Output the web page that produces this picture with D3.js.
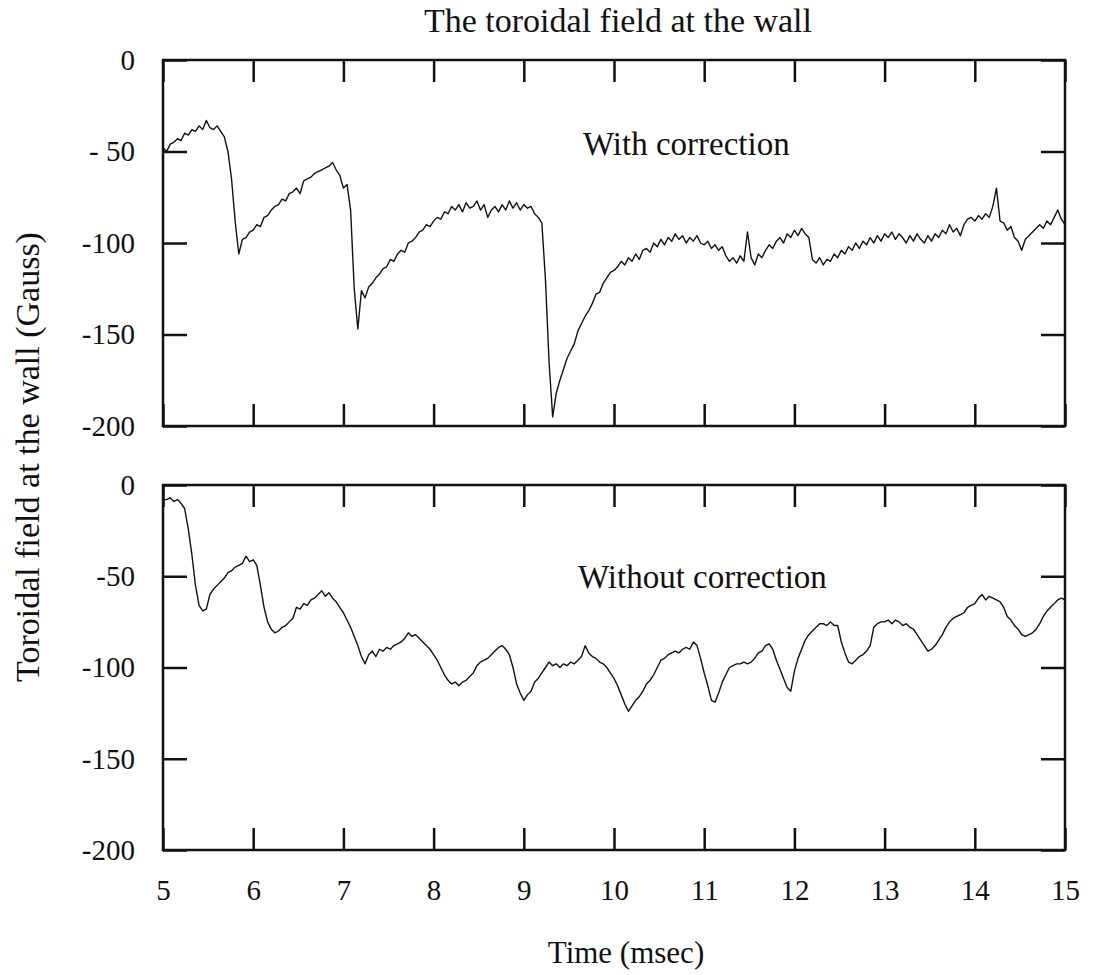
<!DOCTYPE html>
<html>
<head>
<meta charset="utf-8">
<script src="https://cdn.jsdelivr.net/npm/d3@7"></script>
<style>
  body { margin: 0; background: #fff; }
  svg text { font-family: "Liberation Serif", "Times New Roman", serif; fill: #111; }
</style>
</head>
<body>
<svg id="chart" width="1094" height="975"></svg>
<script>
// Sampling grid of the probe record (msec)
const timeStart = 5;
const timeStep = 0.04;

// Toroidal field at the wall with correction (Gauss), one value per sample
const withCorrection = [
  -48,-50,-46,-45,-43,-44,-40,-41,-38,-39,-36,-38,-33,-37,-38,-36,-39,-42,-50,-65,-88,-106,-98,-97,-94,
  -93,-90,-91,-86,-85,-82,-80,-79,-76,-77,-73,-72,-70,-73,-66,-65,-64,-62,-61,-60,-59,-58,-56,-60,-63,
  -70,-68,-82,-125,-147,-126,-130,-124,-122,-119,-117,-114,-113,-109,-110,-106,-104,-105,-100,-99,-97,-94,-93,-90,-91,
  -88,-86,-87,-83,-84,-80,-82,-79,-83,-78,-81,-80,-77,-82,-79,-86,-82,-80,-83,-79,-82,-77,-81,-78,-82,
  -79,-81,-80,-84,-86,-89,-120,-165,-195,-182,-175,-169,-163,-159,-155,-148,-144,-140,-137,-133,-128,-127,-122,-119,-116,
  -115,-113,-110,-112,-108,-110,-106,-109,-104,-103,-105,-100,-102,-98,-101,-97,-99,-95,-98,-96,-100,-97,-99,-96,-100,
  -101,-99,-103,-101,-104,-102,-107,-110,-108,-111,-107,-110,-94,-108,-112,-106,-108,-104,-101,-103,-99,-97,-100,-95,-97,
  -93,-96,-92,-95,-97,-109,-111,-108,-112,-109,-110,-106,-108,-104,-106,-102,-104,-100,-103,-99,-101,-97,-100,-96,-99,
  -95,-97,-94,-98,-95,-97,-100,-96,-99,-95,-98,-100,-96,-99,-95,-97,-93,-95,-90,-94,-92,-96,-90,-87,-86,
  -88,-85,-87,-84,-86,-80,-70,-88,-89,-93,-91,-97,-99,-104,-98,-96,-94,-92,-90,-92,-88,-90,-86,-82,-87,
  -90
];

// Toroidal field at the wall without correction (Gauss)
const withoutCorrection = [
  -8,-8,-7,-9,-8,-10,-13,-24,-38,-55,-66,-69,-68,-60,-57,-55,-53,-51,-48,-47,-45,-44,-43,-39,-42,
  -41,-44,-55,-67,-75,-79,-81,-80,-78,-77,-75,-73,-67,-68,-65,-66,-63,-62,-60,-58,-61,-59,-62,-64,-67,
  -70,-74,-78,-83,-88,-94,-98,-93,-91,-94,-90,-91,-89,-90,-88,-87,-86,-84,-81,-83,-82,-84,-86,-88,-90,
  -93,-96,-100,-104,-107,-109,-108,-110,-108,-107,-105,-103,-99,-97,-96,-95,-93,-91,-89,-88,-90,-93,-100,-109,-114,
  -118,-115,-113,-108,-106,-103,-100,-97,-99,-98,-100,-98,-99,-97,-98,-96,-94,-88,-92,-94,-95,-97,-98,-100,-103,
  -106,-110,-115,-120,-124,-121,-118,-116,-113,-109,-107,-104,-100,-96,-95,-93,-92,-91,-92,-90,-89,-90,-86,-88,-95,
  -103,-110,-118,-119,-114,-108,-104,-100,-99,-98,-98,-97,-98,-97,-95,-92,-91,-88,-87,-90,-96,-101,-106,-111,-113,
  -102,-95,-90,-85,-82,-80,-78,-76,-76,-77,-75,-77,-77,-86,-92,-97,-98,-96,-94,-93,-91,-88,-78,-76,-75,
  -75,-74,-76,-74,-75,-77,-76,-78,-79,-82,-85,-88,-91,-90,-88,-85,-82,-78,-75,-73,-72,-71,-70,-67,-66,
  -65,-62,-60,-63,-61,-62,-63,-64,-67,-72,-74,-77,-79,-82,-83,-82,-81,-79,-76,-72,-69,-67,-65,-63,-62,
  -63
];

const xTicks = [5, 6, 7, 8, 9, 10, 11, 12, 13, 14, 15];
const yTicks = [0, -50, -100, -150, -200];
const yTickLabelsTop = ["0", "- 50", "-100", "-150", "-200"];
const yTickLabelsBottom = ["0", "-50", "-100", "-150", "-200"];
const panelLabels = ["With correction", "Without correction"];
const titleText = "The toroidal field at the wall";
const xLabelText = "Time (msec)";
const yLabelText = "Toroidal field at the wall (Gauss)";

const svg = d3.select("#chart");

const left = 163, right = 1065;
const panels = [
  { top: 60, bottom: 426, values: withCorrection, tickLabels: yTickLabelsTop, label: panelLabels[0], labelX: 583, labelY: 155, showX: false },
  { top: 485, bottom: 850, values: withoutCorrection, tickLabels: yTickLabelsBottom, label: panelLabels[1], labelX: 578, labelY: 588, showX: true }
];

const x = d3.scaleLinear().domain([5, 15]).range([left, right]);

function styleAxis(g) {
  g.select(".domain").remove();
  g.selectAll(".tick line").attr("stroke", "#111").attr("stroke-width", 2.5);
}

panels.forEach(p => {
  const y = d3.scaleLinear().domain([-200, 0]).range([p.bottom, p.top]);
  const g = svg.append("g");

  const series = p.values.map((v, i) => ({ t: timeStart + i * timeStep, v }));

  const line = d3.line().x(d => x(d.t)).y(d => y(d.v));
  g.append("path")
    .datum(series)
    .attr("fill", "none")
    .attr("stroke", "#111")
    .attr("stroke-width", 1.4)
    .attr("stroke-linejoin", "round")
    .attr("d", line);

  // bottom axis: inward ticks, labels only on the lower panel
  const bottomAxis = d3.axisBottom(x).tickValues(xTicks).tickSize(-22).tickPadding(29)
    .tickFormat(p.showX ? d3.format("d") : "");
  g.append("g").attr("transform", `translate(0,${p.bottom})`).call(bottomAxis).call(styleAxis)
    .selectAll("text").attr("font-size", 29).attr("font-family", "Liberation Serif");

  const topAxis = d3.axisTop(x).tickValues(xTicks).tickSize(-22).tickFormat("");
  g.append("g").attr("transform", `translate(0,${p.top})`).call(topAxis).call(styleAxis);

  const leftAxis = d3.axisLeft(y).tickValues(yTicks).tickSize(-24).tickPadding(28)
    .tickFormat((d, i) => p.tickLabels[i]);
  g.append("g").attr("transform", `translate(${left},0)`).call(leftAxis).call(styleAxis)
    .selectAll("text").attr("font-size", 29).attr("font-family", "Liberation Serif");

  const rightAxis = d3.axisRight(y).tickValues(yTicks).tickSize(-24).tickFormat("");
  g.append("g").attr("transform", `translate(${right},0)`).call(rightAxis).call(styleAxis);

  // panel frame
  g.append("rect")
    .attr("x", left).attr("y", p.top)
    .attr("width", right - left).attr("height", p.bottom - p.top)
    .attr("fill", "none").attr("stroke", "#111").attr("stroke-width", 2.5);

  g.append("text")
    .attr("x", p.labelX).attr("y", p.labelY)
    .attr("font-size", 33)
    .text(p.label);
});

svg.append("text")
  .attr("x", 618).attr("y", 32)
  .attr("text-anchor", "middle")
  .attr("font-size", 34)
  .text(titleText);

svg.append("text")
  .attr("x", 626).attr("y", 963)
  .attr("text-anchor", "middle")
  .attr("font-size", 31)
  .text(xLabelText);

svg.append("text")
  .attr("transform", "translate(39,457) rotate(-90)")
  .attr("text-anchor", "middle")
  .attr("font-size", 34)
  .text(yLabelText);
</script>
</body>
</html>
